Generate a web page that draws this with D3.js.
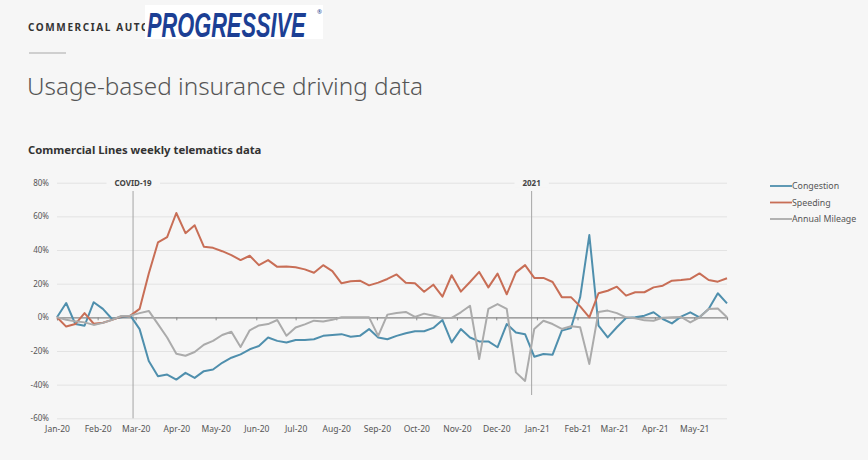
<!DOCTYPE html>
<html>
<head>
<meta charset="utf-8">
<script src="https://cdn.jsdelivr.net/npm/d3@7"></script>
<style>
  html, body { margin: 0; padding: 0; background: #f6f6f6; }
  svg { display: block; font-family: "Noto Sans", "Open Sans", sans-serif; }
</style>
</head>
<body>
<svg id="chart" width="868" height="460"></svg>
<script>
// ---- data (weekly, starting first week of Jan 2020) ----
const seriesNames = ["Congestion", "Speeding", "Annual Mileage"];
const seriesColors = ["#4f8fad", "#c86e56", "#ababab"];

const congestion = [0, 8.5, -4, -5, 9, 5, -1, 0, 1, -7,
  -26, -35, -34, -37, -33, -36, -32, -31, -27, -24,
  -22, -19, -17, -12, -14, -15, -13.5, -13.5, -13, -11,
  -10.5, -10, -11.5, -11, -7, -12, -13, -11, -9.5, -8.3,
  -8.3, -6.3, -1.6, -14.9, -7, -12, -14.3, -14.3, -17.8, -4,
  -9, -10, -23.4, -21.8, -22.2, -7.9, -6.3, 11.9, 48.9, -5,
  -11.9, -5.9, -0.4, 0, 1, 3, -1, -3.6, 0.4, 3,
  0, 5, 14.3, 8.3];

const speeding = [0, -5.5, -4, 2.5, -3.8, -3.2, -1.5, 0.5, 1, 5,
  26, 44.5, 47.7, 62, 50, 54.7, 42, 41.3, 39.3, 37,
  34, 36.6, 31, 34, 30, 30.2, 29.7, 28.5, 26.5, 31,
  27.5, 20.2, 21.4, 21.8, 19, 20.6, 22.8, 25.5, 20.5, 20.3,
  15.2, 19.4, 12.3, 25, 15.3, 21, 27, 17.8, 26, 13.7,
  26.7, 31, 23.4, 23.4, 21, 12, 12, 6.5, 0, 14.3,
  15.8, 18.2, 12.9, 14.9, 14.9, 17.8, 18.8, 21.8, 22.2, 22.8,
  26.1, 22.2, 21.2, 23.2];

const annualMileage = [0, -1.4, -2.4, -3, -4.5, -3.3, -1.5, 0.8, 1, 2.5,
  3.8, -4, -12, -21.6, -22.8, -20.6, -16.3, -14, -10.5, -8.6,
  -17.6, -7.7, -4.8, -4, -1.6, -10.9, -6, -4.2, -2, -2.5,
  -1.5, 0, 0, 0, 0, -11, 1.6, 2.6, 3.2, 0.2,
  2.2, 0.9, -0.5, -0.3, 3, 6.9, -24.8, 5, 7.9, 5,
  -32.7, -37.8, -6.9, -2, -4, -6.9, -5.3, -5.9, -27.7, 3.2,
  4, 2.5, 0, -0.5, -1.8, -2, -0.2, 0, 0.2, -3,
  0, 5, 5.2, 0];

const monthLabels = ["Jan-20", "Feb-20", "Mar-20", "Apr-20", "May-20", "Jun-20", "Jul-20", "Aug-20",
  "Sep-20", "Oct-20", "Nov-20", "Dec-20", "Jan-21", "Feb-21", "Mar-21", "Apr-21", "May-21"];
const yTicks = [80, 60, 40, 20, 0, -20, -40, -60];
const markers = [{ label: "COVID-19", date: "2020-02-28" }, { label: "2021", date: "2020-12-28" }];

// ---- layout ----
const svg = d3.select("#chart");
const bg = "#f6f6f6";
const plotLeft = 57, plotRight = 727, plotTop = 182.7, plotBottom = 418.3;

const startDate = new Date(2020, 0, 1);
const dates = congestion.map((_, i) => d3.timeWeek.offset(startDate, i));
const monthDates = monthLabels.map((_, i) => d3.timeMonth.offset(startDate, i));

const x = d3.scaleTime().domain([dates[0], dates[dates.length - 1]]).range([plotLeft, plotRight]);
const y = d3.scaleLinear().domain([-60, 80]).range([plotBottom, plotTop]);

svg.append("rect").attr("width", 868).attr("height", 460).attr("fill", bg);

// ---- header ----
svg.append("text").attr("x", 28).attr("y", 31)
  .attr("font-size", 10).attr("font-weight", 700).attr("letter-spacing", 1.6)
  .attr("fill", "#333").text("COMMERCIAL AUTO");
svg.append("rect").attr("x", 145).attr("y", 5).attr("width", 178).attr("height", 34).attr("fill", "#ffffff");
svg.append("text").attr("transform", "translate(147,37) scale(0.605,1)")
  .attr("font-family", "Liberation Sans, Arial, sans-serif")
  .attr("font-size", 36).attr("font-weight", 700).attr("font-style", "italic")
  .attr("fill", "#1c3f94")
  .text("PROGRESSIVE");
svg.append("text").attr("x", 317).attr("y", 14)
  .attr("font-size", 6).attr("fill", "#1c3f94").text("®");
svg.append("line").attr("x1", 29).attr("x2", 66).attr("y1", 53).attr("y2", 53)
  .attr("stroke", "#a8a8a8").attr("stroke-width", 1);
svg.append("text").attr("x", 27).attr("y", 95)
  .attr("font-size", 24.3).attr("font-weight", 300).attr("fill", "#555")
  .text("Usage-based insurance driving data");
svg.append("text").attr("x", 28).attr("y", 154)
  .attr("font-size", 11.3).attr("font-weight", 700).attr("fill", "#333")
  .text("Commercial Lines weekly telematics data");

// ---- y axis with gridlines ----
const yAxis = svg.append("g").attr("transform", `translate(${plotLeft},0)`)
  .call(d3.axisLeft(y).tickValues(yTicks).tickSize(-(plotRight - plotLeft)).tickPadding(8)
    .tickFormat(d => d + "%"));
yAxis.select(".domain").remove();
yAxis.selectAll(".tick line").attr("stroke", "#e3e3e3").attr("stroke-width", 1);
yAxis.selectAll(".tick text").attr("font-size", 8).attr("fill", "#555")
  .attr("font-family", "Noto Sans, sans-serif");

// ---- event markers ----
markers.forEach(m => {
  const mx = x(new Date(m.date + "T00:00:00"));
  svg.append("line").attr("x1", mx).attr("x2", mx)
    .attr("y1", 191).attr("y2", m.label === "2021" ? 395 : plotBottom)
    .attr("stroke", "#a5a5a5").attr("stroke-width", 1);
  const t = svg.append("text").attr("x", mx).attr("y", y(80) + 3)
    .attr("text-anchor", "middle").attr("font-size", 8).attr("font-weight", 700)
    .attr("fill", "#444").text(m.label);
  const bb = t.node().getBBox();
  svg.append("rect")
    .attr("x", bb.x - 8).attr("y", bb.y).attr("width", bb.width + 16).attr("height", bb.height)
    .attr("fill", bg);
  t.raise();
});

// ---- zero axis with ticks ----
const zeroAxis = svg.append("g").attr("transform", `translate(0,${y(0)})`)
  .call(d3.axisBottom(x).tickValues(monthDates).tickSize(3).tickFormat(""));
zeroAxis.select(".domain").attr("stroke", "#8a8a8a").attr("stroke-width", 1.2);
zeroAxis.selectAll(".tick line").attr("stroke", "#8a8a8a");

// ---- month labels at bottom ----
const labelAxis = svg.append("g").attr("transform", `translate(0,${plotBottom + 4})`)
  .call(d3.axisBottom(x).tickValues(monthDates).tickSize(0).tickPadding(4)
    .tickFormat((d, i) => monthLabels[i]));
labelAxis.select(".domain").remove();
labelAxis.selectAll(".tick text").attr("font-size", 8.5).attr("fill", "#555")
  .attr("font-family", "Noto Sans, sans-serif");

// ---- lines ----
const allSeries = [congestion, speeding, annualMileage];
const line = d3.line().x((d, i) => x(dates[i])).y(d => y(d));
allSeries.forEach((s, k) => {
  svg.append("path").datum(s).attr("d", line)
    .attr("fill", "none").attr("stroke", seriesColors[k]).attr("stroke-width", 2)
    .attr("stroke-linejoin", "round");
});

// ---- legend ----
const legend = svg.append("g").attr("transform", "translate(770,186)");
seriesNames.forEach((n, k) => {
  const g = legend.append("g").attr("transform", `translate(0,${k * 16.5})`);
  g.append("line").attr("x1", 0).attr("x2", 22).attr("stroke", seriesColors[k]).attr("stroke-width", 1.8);
  g.append("text").attr("x", 22).attr("y", 3).attr("font-size", 8.8).attr("fill", "#555").text(n);
});
</script>
</body>
</html>
